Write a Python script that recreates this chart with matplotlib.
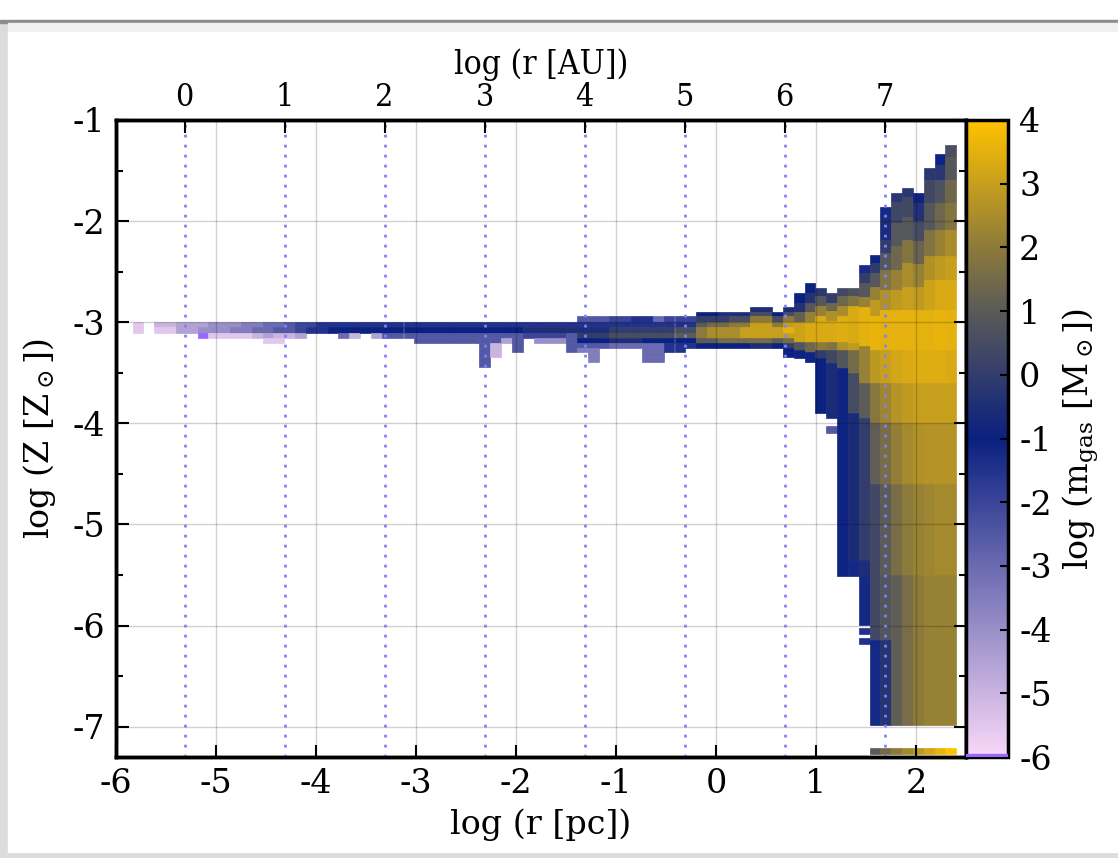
import matplotlib
matplotlib.use("Agg")
import matplotlib.pyplot as plt
from matplotlib.colors import LinearSegmentedColormap, Normalize
from matplotlib.cm import ScalarMappable
from matplotlib.patches import Rectangle

plt.rcParams['font.family'] = 'DejaVu Serif'
plt.rcParams['mathtext.fontset'] = 'dejavuserif'
plt.rcParams['axes.unicode_minus'] = False
plt.rcParams['font.size'] = 24

# ---------------- data ----------------
r_first = -5.835     # left edge of first radial bin, log r [pc]
r_width = 0.1084     # radial bin width

# thin disc strip, columns 0..60, rows top -> bottom between these edges (log Z)
strip_edges = [-2.851, -2.894, -2.943, -2.993, -3.05, -3.108, -3.157,
               -3.207, -3.25, -3.29, -3.34, -3.39, -3.44]
# one char per cell: '0'=-6 ... 'K'=+4 (steps of 0.5), 'v'=below range, '.'=empty
mass_code = "0123456789ABCDEFGHIJK"
strip_cols = [
    "...11.......", "............", "...21.......", "...21.......",
    "...33.......", "...33.......", "...34v......", "...441......",
    "...441......", "...451......", "...551......", "...562......",
    "...6631.....", "...6721.....", "...772......", "...883......",
    "...89.......", "...99.......", "...9A.......", "...9A6......",
    "...9A2......", "...9A.......", "...9A3......", "...9A7......",
    "...9A7......", "...9A7......", "...9A77.....", "...9A77.....",
    "...9A77.....", "...9A77.....", "...9A77.....", "...9A77.....",
    "...9A7777777", "...9A77222..", "...9A73.....", "...9A7777...",
    "...9B8......", "...9B84.....", "...9B84.....", "...9B84.....",
    "...9B7777...", "..79BCA75...", "..79BCA7555.", "..79BCA7....",
    "..89CDB6....", "..89CDB6....", "..99CDB6....", "..99CDA6666.",
    "..69CDA6666.", "..89CDA99...", "..89DEA99...", "..89DEA9....",
    ".ACEGGEA....", ".ACFHHEA....", ".BCFHHFA....", ".BDGHHFA....",
    ".BDGIIFA....", "BDGIIIFB....", "BDGIIIFB....", ".ADGIIEA....",
    "BDGIJIFCAA..",
]

# outer columns 61..75: (log Z top, log Z bottom, log m_gas)
blob_cols = {
    61: [(-2.713, -2.812, -1.0), (-2.812, -2.894, -0.4), (-2.894, -2.993, 1.2),
         (-2.993, -3.2, 3.1), (-3.2, -3.273, 0.8), (-3.273, -3.35, -1.1)],
    62: [(-2.614, -2.713, -1.0), (-2.713, -2.812, -0.4), (-2.812, -2.894, 0.9),
         (-2.894, -2.993, 2.2), (-2.993, -3.2, 3.3), (-3.2, -3.29, 1.4),
         (-3.29, -3.39, -1.1)],
    63: [(-2.66, -2.74, -0.2), (-2.74, -2.84, 0.9), (-2.84, -2.94, 2.2),
         (-2.94, -3.2, 3.3), (-3.2, -3.27, 2.0), (-3.27, -3.35, 0.0),
         (-3.35, -3.90, -1.0)],
    64: [(-2.71, -2.81, 0.0), (-2.81, -2.89, 1.4), (-2.89, -2.99, 2.6),
         (-2.99, -3.2, 3.3), (-3.2, -3.27, 1.8), (-3.27, -3.40, 0.3),
         (-3.40, -3.95, -0.6), (-4.03, -4.10, -2.5)],
    65: [(-2.66, -2.74, 0.4), (-2.74, -2.84, 1.4), (-2.84, -2.94, 2.5),
         (-2.94, -3.2, 3.4), (-3.2, -3.27, 2.6), (-3.27, -3.45, 0.8),
         (-3.45, -5.51, -1.1)],
    66: [(-2.66, -2.74, 0.7), (-2.74, -2.84, 1.8), (-2.84, -3.21, 3.3),
         (-3.21, -3.27, 2.9), (-3.27, -3.5, 1.5), (-3.5, -3.9, 0.5),
         (-3.9, -5.35, -0.6), (-5.35, -5.51, -1.2)],
    67: [(-2.433, -2.516, -1.3), (-2.516, -2.615, 0.0), (-2.615, -2.746, 0.9),
         (-2.746, -2.845, 2.2), (-2.845, -3.24, 3.5), (-3.24, -3.6, 2.2),
         (-3.6, -3.95, 1.0), (-3.95, -5.35, 0.0), (-5.35, -5.51, -0.5),
         (-5.51, -5.99, -1.2), (-6.02, -6.08, -1.5), (-6.12, -6.18, -1.5)],
    68: [(-2.334, -2.416, -1.1), (-2.416, -2.515, -0.1), (-2.515, -2.647, 0.9),
         (-2.647, -2.78, 2.2), (-2.78, -2.94, 2.9), (-2.94, -3.27, 3.6),
         (-3.27, -3.6, 2.8), (-3.6, -4.0, 1.9), (-4.0, -4.6, 1.1),
         (-4.6, -6.14, 0.4), (-6.14, -6.985, -1.2)],
    69: [(-1.863, -1.955, -1.2), (-1.955, -2.186, -0.6), (-2.186, -2.318, 0.0),
         (-2.318, -2.48, 0.9), (-2.48, -2.68, 1.8), (-2.68, -2.877, 2.6),
         (-2.877, -3.27, 3.5), (-3.27, -3.6, 3.0), (-3.6, -4.0, 2.3),
         (-4.0, -4.6, 1.6), (-4.6, -5.5, 1.0), (-5.5, -6.14, 0.8),
         (-6.14, -6.985, -0.3)],
    70: [(-1.718, -1.807, -0.2), (-1.807, -2.021, 0.3), (-2.021, -2.25, 0.9),
         (-2.25, -2.48, 1.4), (-2.48, -2.68, 2.2), (-2.68, -2.877, 2.9),
         (-2.877, -3.27, 3.5), (-3.27, -3.6, 3.2), (-3.6, -4.0, 2.7),
         (-4.0, -4.6, 2.1), (-4.6, -5.5, 1.6), (-5.5, -6.985, 1.1)],
    71: [(-1.669, -1.758, -0.2), (-1.758, -1.955, 0.4), (-1.955, -2.186, 0.9),
         (-2.186, -2.416, 1.8), (-2.416, -2.647, 2.5), (-2.647, -2.877, 3.0),
         (-2.877, -3.27, 3.5), (-3.27, -3.6, 3.3), (-3.6, -4.0, 2.9),
         (-4.0, -4.6, 2.4), (-4.6, -5.5, 2.0), (-5.5, -6.985, 1.6)],
    72: [(-1.718, -1.82, -1.1), (-1.82, -2.0, -0.4), (-2.0, -2.2, 0.5),
         (-2.2, -2.42, 1.3), (-2.42, -2.65, 2.2), (-2.65, -2.88, 2.9),
         (-2.88, -3.27, 3.5), (-3.27, -3.6, 3.4), (-3.6, -4.0, 3.0),
         (-4.0, -4.6, 2.6), (-4.6, -5.5, 2.2), (-5.5, -6.985, 2.0)],
    73: [(-1.478, -1.593, -0.2), (-1.593, -1.823, 0.4), (-1.823, -2.087, 0.9),
         (-2.087, -2.35, 1.8), (-2.35, -2.58, 2.6), (-2.58, -2.877, 3.1),
         (-2.877, -3.27, 3.5), (-3.27, -3.6, 3.4), (-3.6, -4.0, 3.0),
         (-4.0, -4.6, 2.7), (-4.6, -5.5, 2.3), (-5.5, -6.985, 2.2)],
    74: [(-1.336, -1.445, -1.1), (-1.445, -1.593, -0.2), (-1.593, -1.823, 0.7),
         (-1.823, -2.087, 1.4), (-2.087, -2.35, 2.2), (-2.35, -2.58, 2.9),
         (-2.58, -2.877, 3.3), (-2.877, -3.27, 3.6), (-3.27, -3.6, 3.4),
         (-3.6, -4.0, 3.0), (-4.0, -4.6, 2.7), (-4.6, -5.5, 2.4),
         (-5.5, -6.985, 2.2)],
    75: [(-1.247, -1.362, 0.6), (-1.362, -1.593, 0.9), (-1.593, -1.823, 1.4),
         (-1.823, -2.087, 1.8), (-2.087, -2.35, 2.5), (-2.35, -2.58, 3.0),
         (-2.58, -2.877, 3.3), (-2.877, -3.27, 3.5), (-3.27, -3.6, 3.3),
         (-3.6, -4.0, 3.0), (-4.0, -4.6, 2.7), (-4.6, -5.5, 2.4),
         (-5.5, -6.985, 2.2)],
}

# cells below log Z = -7, piled up in the bottom row
floor_top, floor_bot = -7.21, -7.27
floor_cols = [68, 69, 70, 71, 72, 73, 74, 75]
floor_mass = [1.0, 1.5, 2.0, 2.4, 2.8, 3.2, 3.6, 4.0]

au_ticks = [0, 1, 2, 3, 4, 5, 6, 7]
pc_in_au = 5.3144          # log10(206265)
cbar_ticks = list(range(-6, 5))

# ---------------- colours ----------------
cmap = LinearSegmentedColormap.from_list(
    'gasmass', [(0.0, '#f8d8f8'), (0.5, '#0a2080'), (0.7, '#5a5a58'),
                (0.8, '#8c7a3a'), (1.0, '#ffc200')])
cmap.set_under('#9966ff')
norm = Normalize(-6, 4)

# ---------------- build cells ----------------
xs, bots, hts, ms = [], [], [], []
for j, col in enumerate(strip_cols):
    for i, c in enumerate(col):
        if c == '.':
            continue
        m = -7.0 if c == 'v' else -6 + 0.5 * mass_code.index(c)
        xs.append(r_first + j * r_width)
        bots.append(strip_edges[i + 1])
        hts.append(strip_edges[i] - strip_edges[i + 1])
        ms.append(m)
for j, segs in blob_cols.items():
    for ztop, zbot, m in segs:
        xs.append(r_first + j * r_width)
        bots.append(zbot)
        hts.append(ztop - zbot)
        ms.append(m)
for j, m in zip(floor_cols, floor_mass):
    xs.append(r_first + j * r_width)
    bots.append(floor_bot)
    hts.append(floor_top - floor_bot)
    ms.append(m)
cols = cmap(norm(ms))

# ---------------- figure ----------------
W, H = 1118, 858
fig = plt.figure(figsize=(W / 100, H / 100), dpi=100, facecolor='#dcdcdc')
# screenshot frame around the plot window
fig.add_artist(Rectangle((0, 1 - 20 / H), 1, 20 / H, transform=fig.transFigure,
                         color='white', zorder=-10))
fig.add_artist(Rectangle((0, 1 - 23 / H), 1, 3 / H, transform=fig.transFigure,
                         color='#8c8c8c', zorder=-10))
fig.add_artist(Rectangle((8 / W, 1 - 32 / H), 1, 9 / H, transform=fig.transFigure,
                         color='#f0f0f0', zorder=-10))
fig.add_artist(Rectangle((8 / W, 6 / H), 1, (852 - 32) / H, transform=fig.transFigure,
                         color='white', zorder=-10))

ax = fig.add_axes([116 / W, 1 - 757 / H, 850 / W, 637 / H])
ax.bar(xs, hts, width=r_width, bottom=bots, align='edge', color=cols,
       edgecolor=cols, linewidth=0.5, zorder=1)

ax.set_xlim(-6, 2.5)
ax.set_ylim(-7.3, -1)
ax.set_xticks(range(-6, 3))
ax.set_yticks(range(-7, 0))
ax.set_yticks([-6.5, -5.5, -4.5, -3.5, -2.5, -1.5], minor=True)
ax.set_axisbelow(False)
ax.grid(True, which='major', color='k', alpha=0.18, lw=1)
for a in au_ticks:
    ax.axvline(a - pc_in_au, color='#8080ff', lw=2, ls=(0, (1, 2.6)), zorder=3)

ax.tick_params(which='both', direction='in', left=True, right=True, top=False,
               bottom=True, width=1.5, pad=8)
ax.tick_params(which='major', length=9)
ax.tick_params(which='minor', length=5)
for s in ax.spines.values():
    s.set_linewidth(2.5)
ax.set_xlabel('log (r [pc])', labelpad=6)
ax.set_ylabel(r'log (Z [Z$_\odot$])', labelpad=10)

ax2 = ax.twiny()
ax2.set_xlim(-6 + pc_in_au, 2.5 + pc_in_au)
ax2.set_xticks(au_ticks)
ax2.tick_params(direction='in', length=9, width=1.5, labelsize=23, pad=5)
for lbl in ax2.get_xticklabels():
    lbl.set_fontstretch('condensed')
ax2.set_xlabel('log (r [AU])', fontsize=24, fontstretch='condensed', labelpad=6)
for s in ax2.spines.values():
    s.set_linewidth(2.5)

cax = fig.add_axes([966 / W, 1 - 757 / H, 42 / W, 637 / H])
cb = fig.colorbar(ScalarMappable(norm=norm, cmap=cmap), cax=cax, ticks=cbar_ticks)
cax.axhspan(-6, -5.96, color='#9966ff', zorder=3)
cb.outline.set_linewidth(2.5)
cax.tick_params(direction='in', length=6, width=1.5, pad=8)
cb.set_label(r'log (m$_{\rm gas}$ [M$_\odot$])', labelpad=6)

fig.savefig('out.png', dpi=100, facecolor=fig.get_facecolor())
